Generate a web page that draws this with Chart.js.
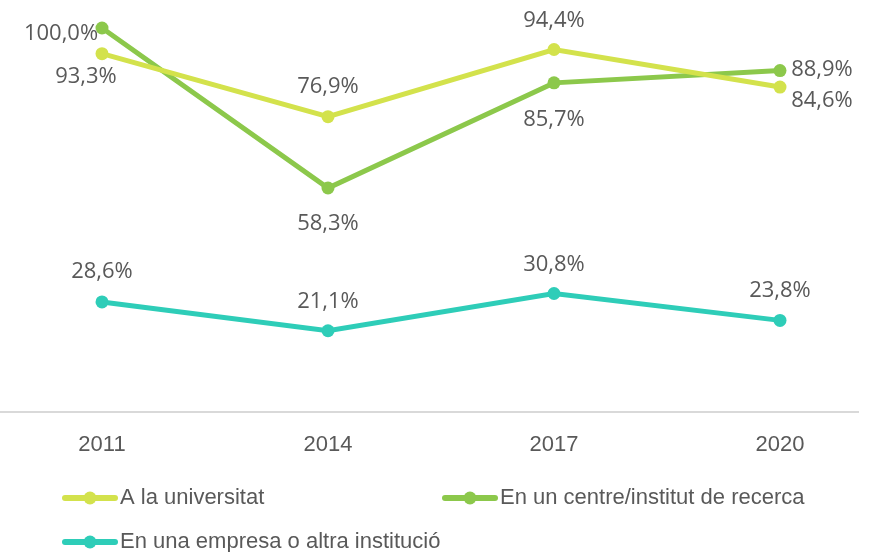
<!DOCTYPE html>
<html lang="ca">

<head>
    <meta charset="UTF-8">
    <script src="https://cdn.jsdelivr.net/npm/chart.js@4"></script>
    <title>Inserció</title>
    <style>
        html, body { margin: 0; padding: 0; background: #fff; }
        #wrap { width: 872px; height: 552px; }
    </style>
</head>

<body>
    <div id="wrap"><canvas id="myChart" width="872" height="552"></canvas></div>
    <script>
        // data
        var years = ['2011', '2014', '2017', '2020'];
        var universitat = [93.3, 76.9, 94.4, 84.6];
        var centreRecerca = [100.0, 58.3, 85.7, 88.9];
        var empresa = [28.6, 21.1, 30.8, 23.8];
        var seriesNames = ['A la universitat', 'En un centre/institut de recerca', 'En una empresa o altra institució'];

        var colors = ['#d3e24c', '#8cc84b', '#2ecdb8'];
        var textColor = '#595959';

        // label offsets from each point (dx, dy), per series
        var labelOffsets = [
            [[-16, 23], [0, -30], [0, -29], [42, 14]],
            [[-41, 6], [0, 36], [0, 37], [42, -1]],
            [[0, -30], [0, -29], [0, -29], [0, -30]]
        ];
        // legend entry positions
        var legendSpots = [[62, 498], [442, 498], [62, 542]];

        function toPoints(values) {
            return values.map(function (v, i) { return { x: i, y: v }; });
        }

        function fmt(v) {
            return v.toFixed(1).replace('.', ',') + '%';
        }

        var valueLabels = {
            id: 'valueLabels',
            afterDatasetsDraw: function (chart) {
                var ctx = chart.ctx;
                ctx.save();
                ctx.font = '22px "Open Sans"';
                ctx.fillStyle = textColor;
                ctx.textAlign = 'center';
                ctx.textBaseline = 'middle';
                chart.data.datasets.forEach(function (ds, di) {
                    var meta = chart.getDatasetMeta(di);
                    meta.data.forEach(function (pt, i) {
                        var off = labelOffsets[di][i];
                        ctx.fillText(fmt(ds.data[i].y), pt.x + off[0], pt.y + off[1]);
                    });
                });
                ctx.restore();
            }
        };

        var bottomLegend = {
            id: 'bottomLegend',
            afterDraw: function (chart) {
                var ctx = chart.ctx;
                ctx.save();
                chart.data.datasets.forEach(function (ds, di) {
                    var x = legendSpots[di][0], y = legendSpots[di][1];
                    ctx.strokeStyle = ds.borderColor;
                    ctx.lineWidth = 6;
                    ctx.lineCap = 'round';
                    ctx.beginPath();
                    ctx.moveTo(x + 3, y);
                    ctx.lineTo(x + 53, y);
                    ctx.stroke();
                    ctx.fillStyle = ds.borderColor;
                    ctx.beginPath();
                    ctx.arc(x + 28, y, 6.5, 0, Math.PI * 2);
                    ctx.fill();
                    ctx.fillStyle = textColor;
                    ctx.font = '22px "Liberation Sans"';
                    ctx.textAlign = 'left';
                    ctx.textBaseline = 'middle';
                    ctx.fillText(ds.label, x + 58, y);
                });
                ctx.restore();
            }
        };

        function makeSet(name, values, color) {
            return {
                label: name,
                data: toPoints(values),
                borderColor: color,
                backgroundColor: color,
                borderWidth: 5,
                pointRadius: 6.5,
                pointHoverRadius: 6.5,
                pointBorderWidth: 0,
                tension: 0,
                clip: false
            };
        }

        var ctx = document.getElementById('myChart').getContext('2d');
        var myChart = new Chart(ctx, {
            type: 'line',
            data: {
                datasets: [
                    makeSet(seriesNames[0], universitat, colors[0]),
                    makeSet(seriesNames[1], centreRecerca, colors[1]),
                    makeSet(seriesNames[2], empresa, colors[2])
                ]
            },
            options: {
                responsive: false,
                animation: false,
                layout: { autoPadding: false, padding: { top: 28, right: 14, bottom: 100, left: 0 } },
                plugins: {
                    legend: { display: false },
                    tooltip: { enabled: false }
                },
                scales: {
                    x: {
                        type: 'linear',
                        min: -0.4513,
                        max: 3.3452,
                        grid: { display: false, drawTicks: false },
                        border: { display: true, color: '#d9d9d9', width: 2 },
                        afterFit: function (scale) { scale.height = 40.3; },
                        ticks: {
                            stepSize: 1,
                            includeBounds: false,
                            autoSkip: false,
                            maxRotation: 0,
                            padding: 20,
                            color: textColor,
                            font: { family: 'Liberation Sans', size: 22 },
                            callback: function (v) {
                                return Number.isInteger(v) && years[v] ? years[v] : '';
                            }
                        }
                    },
                    y: {
                        display: false,
                        min: 0,
                        max: 100
                    }
                }
            },
            plugins: [valueLabels, bottomLegend]
        });
    </script>
</body>

</html>
